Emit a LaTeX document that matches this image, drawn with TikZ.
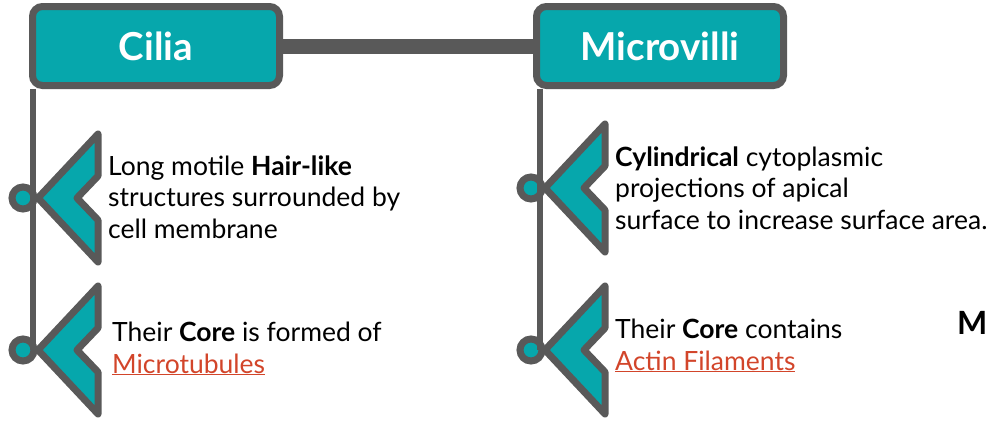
\documentclass[tikz,border=0pt]{standalone}
\usepackage{fontspec}
\setmainfont{Lato}
\definecolor{teal1}{HTML}{06A7AC}
\definecolor{gray1}{HTML}{595959}
\definecolor{link1}{HTML}{D2452A}
\newcommand{\linkul}[1]{\textcolor{link1}{\underline{#1}}}
\tikzset{
  titlebox/.style={draw=gray1, line width=7pt, fill=teal1, rounded corners=10pt,
    minimum width=247pt, minimum height=79pt, text=white, font=\fontsize{38.5}{44}\selectfont\bfseries},
  bar/.style={draw=gray1, line width=15pt},
  stem/.style={draw=gray1, line width=6pt},
  chev/.style={draw=gray1, line width=7pt, fill=teal1, line join=round},
  dot/.style={circle, draw=gray1, line width=7pt, fill=teal1, minimum size=22pt, inner sep=0pt},
  body/.style={anchor=base west, align=left, inner sep=0pt, font=\fontsize{26.5}{31.5}\selectfont}
}
\newcommand{\chevron}[3]{% #1 x of right edge, #2 y center, #3 name
  \draw[chev] (#1,#2-64) -- (#1-60,#2) -- (#1,#2+64) -- (#1,#2+22) -- (#1-21,#2) -- (#1,#2-22) -- cycle;
  \coordinate (#3) at (#1-60,#2);
}
\begin{document}
\begin{tikzpicture}[x=1pt,y=-1pt]
\useasboundingbox (0,0) rectangle (990,421);
% title boxes
\node[titlebox] (cilia) at (156,46) {Cilia};
\node[titlebox] (micro) at (660,46) {Microvilli};
\draw[bar] (cilia.east) -- (micro.east -| micro.west);
\coordinate (cs) at (33,89);
\coordinate (ms) at (540,89);
% chevrons
\chevron{98}{198}{c1}
\chevron{98}{350}{c2}
\chevron{605}{188}{m1}
\chevron{605}{350}{m2}
\node[dot] (cd1) at (23,198) {};
\node[dot] (cd2) at (23,350) {};
\node[dot] (md1) at (531,188) {};
\node[dot] (md2) at (531,350) {};
\draw[stem] (cs) -- (cs |- cd2.center);
\draw[stem] (ms) -- (ms |- md2.center);
% texts (base = last line)
\node[body] (t1) at (108,238) {Long motile \textbf{Hair-like}\\structures surrounded by\\cell membrane};
\node[body] (t2) at (112,373) {Their \textbf{Core} is formed of\\\linkul{Microtubules}};
\node[body] (t3) at (615,229) {\textbf{Cylindrical} cytoplasmic\\projections of apical\\surface to increase surface area.};
\node[body] (t4) at (615,370) {Their \textbf{Core} contains\\\linkul{Actin Filaments}};
\node[anchor=base west, inner sep=0pt, font=\fontsize{32}{36}\selectfont\bfseries] (mm) at (957,334) {M};
\end{tikzpicture}
\end{document}
